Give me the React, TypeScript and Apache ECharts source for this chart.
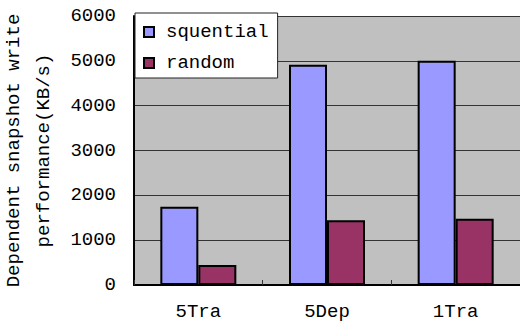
import React, { useEffect, useRef } from "react";
import * as echarts from "echarts";

const categories = ["5Tra", "5Dep", "1Tra"];
const sequentialValues = [1745, 4910, 5000];
const randomValues = [445, 1445, 1480];
const yTicks = [0, 1000, 2000, 3000, 4000, 5000, 6000];

const FONT = "Liberation Mono";

export default function App() {
  const ref = useRef<HTMLDivElement>(null);
  useEffect(() => {
    const chart = echarts.init(ref.current!, null, { renderer: "svg" });
    chart.setOption({
      animation: false,
      backgroundColor: "#ffffff",
      textStyle: { fontFamily: FONT },
      grid: {
        left: 134,
        right: 0,
        top: 16,
        bottom: 44,
        show: true,
        backgroundColor: "#c0c0c0",
        borderWidth: 0,
        containLabel: false,
        outerBoundsMode: "none",
      },
      legend: {
        orient: "vertical",
        left: 135,
        top: 13,
        backgroundColor: "#ffffff",
        borderColor: "#222",
        borderWidth: 1,
        borderRadius: 0,
        padding: [9, 9, 5, 8],
        itemWidth: 10,
        itemHeight: 10,
        itemGap: 11,
        icon: "rect",
        textStyle: {
          fontFamily: FONT,
          fontSize: 19,
          color: "#000",
          lineHeight: 20,
          padding: [0, 0, 0, 7],
        },
        data: ["squential", "random"],
      },
      xAxis: {
        type: "category",
        data: categories,
        axisLine: { lineStyle: { color: "#000", width: 2 } },
        axisTick: { show: true, inside: true, length: 5, lineStyle: { color: "#333" } },
        axisLabel: { fontFamily: FONT, fontSize: 19, color: "#000", margin: 17 },
      },
      yAxis: {
        type: "value",
        min: yTicks[0],
        max: yTicks[yTicks.length - 1],
        interval: 1000,
        name: "Dependent snapshot write\nperformance(KB/s)",
        nameLocation: "middle",
        nameRotate: 90,
        nameGap: 68,
        nameTextStyle: { fontFamily: FONT, fontSize: 19, color: "#000", lineHeight: 30 },
        axisLine: { show: true, lineStyle: { color: "#000", width: 2 } },
        axisTick: { show: false },
        axisLabel: {
          fontFamily: FONT,
          fontSize: 19,
          color: "#000",
          margin: 18,
          formatter: (v: number) => String(v),
        },
        splitLine: { show: true, lineStyle: { color: "#333", width: 1 } },
      },
      series: [
        {
          name: "squential",
          type: "bar",
          data: sequentialValues,
          barGap: "0%",
          barWidth: 38,
          itemStyle: { color: "#9999ff", borderColor: "#000", borderWidth: 2 },
        },
        {
          name: "random",
          type: "bar",
          data: randomValues,
          barGap: "0%",
          barWidth: 38,
          itemStyle: { color: "#993366", borderColor: "#000", borderWidth: 2 },
        },
      ],
    });
    return () => chart.dispose();
  }, []);
  return (
    <div
      ref={ref}
      style={{ position: "fixed", left: 0, top: 0, width: 520, height: 329 }}
    />
  );
}
